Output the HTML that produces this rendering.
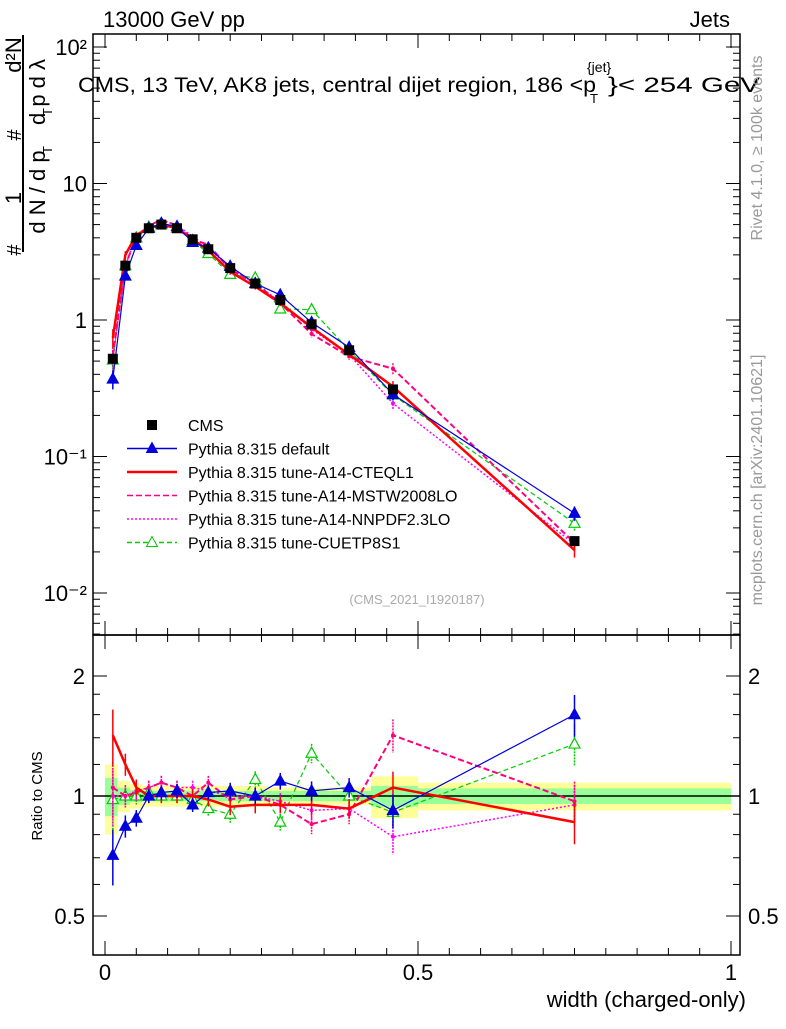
<!DOCTYPE html>
<html><head><meta charset="utf-8"><style>
body{margin:0;background:#fff;}
svg{font-family:"Liberation Sans",sans-serif;}
</style></head><body>
<svg id="c" width="786" height="1024" viewBox="0 0 786 1024" xmlns="http://www.w3.org/2000/svg"></svg>
<script>
const xs=[0.0125,0.0325,0.05,0.07,0.09,0.115,0.14,0.165,0.2,0.24,0.28,0.33,0.39,0.46,0.75];
const binEdges=[0,0.02,0.04,0.06,0.08,0.1,0.13,0.15,0.18,0.22,0.26,0.30,0.36,0.425,0.5,1.0];
const cms=[0.52,2.5,4.0,4.7,5.0,4.7,3.9,3.3,2.4,1.85,1.4,0.93,0.6,0.31,0.024];
const rDefault=[0.71,0.84,0.88,1.0,1.02,1.03,0.95,1.02,1.03,1.0,1.09,1.03,1.05,0.92,1.6];
const rCteq=[1.42,1.2,1.05,1.0,1.0,1.0,1.0,0.98,0.94,0.95,0.95,0.95,0.93,1.05,0.86];
const rMstw=[1.05,1.0,1.02,1.05,1.08,1.05,1.0,1.08,0.98,1.0,0.95,0.85,0.9,1.42,0.97];
const rNnpdf=[1.0,1.0,1.03,1.05,1.08,1.05,1.05,1.03,1.0,1.0,0.97,0.92,0.93,0.79,0.95];
const rCuetp=[0.98,1.0,1.0,1.02,1.0,1.0,0.98,0.93,0.9,1.1,0.86,1.28,1.0,0.91,1.35];
const bandOuter=[0.2,0.09,0.07,0.06,0.06,0.06,0.06,0.06,0.06,0.06,0.05,0.05,0.05,0.12,0.08];
const bandInner=[0.11,0.05,0.035,0.03,0.03,0.03,0.03,0.03,0.03,0.03,0.03,0.03,0.03,0.06,0.045];
const relErr=[0.2,0.08,0.06,0.05,0.05,0.05,0.05,0.05,0.06,0.06,0.06,0.07,0.07,0.12,0.15];
const yTicks=["10\u207B\u00B2","10\u207B\u00B9","1","10","10\u00B2"];
const S="http://www.w3.org/2000/svg";
const svg=document.getElementById('c');
const L=93,R=740,T1=34,B1=635,T2=635,B2=955;
const X=v=>105+v*626;
const Y1=v=>320-Math.log10(v)*136.5;
const Y2=v=>796-Math.log2(v)*120;
function el(t,a,txt){const e=document.createElementNS(S,t);for(const k in a)e.setAttribute(k,a[k]);if(txt!==undefined)e.textContent=txt;svg.appendChild(e);return e;}
for(let i=0;i<xs.length;i++){
 const lo=binEdges[i],hi=binEdges[i+1];
 let b=el('rect',{x:X(lo),y:Y2(1+bandOuter[i]),width:X(hi)-X(lo),height:Y2(1-bandOuter[i])-Y2(1+bandOuter[i]),fill:'#ffff99'});
 
 b=el('rect',{x:X(lo),y:Y2(1+bandInner[i]),width:X(hi)-X(lo),height:Y2(1-bandInner[i])-Y2(1+bandInner[i]),fill:'#99ff99'});
 
}
el('line',{x1:L,x2:R,y1:Y2(1),y2:Y2(1),stroke:'#000','stroke-width':1.5});
for(const [t,b] of [[T1,B1],[T2,B2]]){let f=el('rect',{x:L,y:t,width:R-L,height:b-t,fill:'none',stroke:'#000','stroke-width':1.5});}
for(let k=0;k<=20;k++){const v=k*0.05,x=X(v),len=k%10==0?14:7;
 for(const [t,b] of [[T1,B1],[T2,B2]]){el('line',{x1:x,x2:x,y1:b,y2:b-len,stroke:'#000'});el('line',{x1:x,x2:x,y1:t,y2:t+len,stroke:'#000'});}}
[["0",0],["0.5",0.5],["1",1]].forEach(([s,v])=>{const t=el('text',{x:X(v),y:980,'font-size':22,'text-anchor':'middle'},s);});
for(let d=-3;d<=2;d++)for(let m=1;m<10;m++){const v=m*Math.pow(10,d),y=Y1(v);if(y<T1||y>B1)continue;const len=m==1?14:7;
 el('line',{x1:L,x2:L+len,y1:y,y2:y,stroke:'#000'});el('line',{x1:R,x2:R-len,y1:y,y2:y,stroke:'#000'});}
yTicks.forEach((s,i)=>{const v=Math.pow(10,i-2);const t=el('text',{x:L-6,y:Y1(v)+8,'font-size':22,'text-anchor':'end'},s);});
[0.5,0.6,0.7,0.8,0.9,1,1.2,1.4,1.6,1.8,2].forEach(v=>{const y=Y2(v),len=(v==0.5||v==1||v==2)?14:7;el('line',{x1:L,x2:L+len,y1:y,y2:y,stroke:'#000'});el('line',{x1:R,x2:R-len,y1:y,y2:y,stroke:'#000'});});
[["2",2],["1",1],["0.5",0.5]].forEach(([s,v])=>{for(const [x,a] of [[L-8,'end'],[R+8,'start']]){const t=el('text',{x:x,y:Y2(v)+8,'font-size':22,'text-anchor':a},s);}});
const series=[
 {r:rCuetp,c:'#00cc00',d:'5,3',w:1.2,m:'otri',n:'cuetp8s1'},
 {r:rNnpdf,c:'#ff00ff',d:'2,2',w:1.5,m:'dot',n:'nnpdf'},
 {r:rMstw,c:'#ff0080',d:'6,3',w:2,m:'dot',n:'mstw'},
 {r:rCteq,c:'#ff0000',d:'',w:2.5,m:'none',n:'cteql1'},
 {r:rDefault,c:'#0000dd',d:'',w:1.2,m:'tri',n:'default'}];
function marker(s,x,y){if(s.m=='tri'||s.m=='otri'){const p=el('polygon',{points:`${x},${y-6} ${x-5.5},${y+4} ${x+5.5},${y+4}`,fill:s.m=='tri'?s.c:'#fff',stroke:s.c,'stroke-width':1.2});}
 else if(s.m=='dot'){const p=el('circle',{cx:x,cy:y,r:2,fill:s.c});}}
series.forEach(s=>{
 const p1=xs.map((x,i)=>X(x)+','+Y1(cms[i]*s.r[i])).join(' ');
 const p2=xs.map((x,i)=>X(x)+','+Y2(s.r[i])).join(' ');
 let l=el('polyline',{points:p1,fill:'none',stroke:s.c,'stroke-width':s.w,'stroke-dasharray':s.d});
 l=el('polyline',{points:p2,fill:'none',stroke:s.c,'stroke-width':s.w,'stroke-dasharray':s.d});
 xs.forEach((x,i)=>{const e=relErr[i]*0.8;const v=s.r[i];
  el('line',{x1:X(x),x2:X(x),y1:Y1(cms[i]*v*(1+e)),y2:Y1(cms[i]*v*(1-e)),stroke:s.c,'stroke-width':1.5,'stroke-dasharray':s.d?'2,1':''});
  el('line',{x1:X(x),x2:X(x),y1:Y2(v*(1+e)),y2:Y2(v*(1-e)),stroke:s.c,'stroke-width':1.5,'stroke-dasharray':s.d?'2,1':''});
  marker(s,X(x),Y1(cms[i]*v));marker(s,X(x),Y2(v));});
});
xs.forEach((x,i)=>{const r=el('rect',{x:X(x)-5,y:Y1(cms[i])-5,width:10,height:10,fill:'#000'});});
const leg=[['CMS','sq','#000',''],['Pythia 8.315 default','tri','#0000dd',''],['Pythia 8.315 tune-A14-CTEQL1','none','#ff0000',''],['Pythia 8.315 tune-A14-MSTW2008LO','none','#ff0080','6,3'],['Pythia 8.315 tune-A14-NNPDF2.3LO','none','#ff00ff','2,2'],['Pythia 8.315 tune-CUETP8S1','otri','#00cc00','5,3']];
leg.forEach((e,i)=>{const y=425+i*23.5;
 if(i>0)el('line',{x1:127,x2:177,y1:y,y2:y,stroke:e[2],'stroke-width':i==2?2.5:1.5,'stroke-dasharray':e[3]});
 if(e[1]=='sq')el('rect',{x:147,y:y-5,width:10,height:10,fill:'#000'});
 if(e[1]=='tri'||e[1]=='otri')el('polygon',{points:`152,${y-6} 146.5,${y+4} 157.5,${y+4}`,fill:e[1]=='tri'?e[2]:'#fff',stroke:e[2]});
 const t=el('text',{x:188,y:y+6,'font-size':16},e[0]);});
let t=el('text',{x:103,y:27,'font-size':22},'13000 GeV pp');
t=el('text',{x:730,y:27,'font-size':22,'text-anchor':'end'},'Jets');
t=el('text',{x:78,y:92,'font-size':21,textLength:518,lengthAdjust:'spacingAndGlyphs'},'CMS, 13 TeV, AK8 jets, central dijet region, 186 <p');
el('text',{x:587,y:72,'font-size':14},'{jet}');el('text',{x:590,y:103,'font-size':13},'T');
el('text',{x:608,y:92,'font-size':21,textLength:152,lengthAdjust:'spacingAndGlyphs'},'}< 254 GeV');
t=el('text',{x:417,y:604,'font-size':13,fill:'#aaa','text-anchor':'middle'},'(CMS_2021_I1920187)');
t=el('text',{x:746,y:1007,'font-size':22,'text-anchor':'end'},'width (charged-only)');
t=el('text',{x:0,y:0,'font-size':15,'text-anchor':'middle',transform:'translate(42,796) rotate(-90)'},'Ratio to CMS');
// y title
el('line',{x1:23,x2:23,y1:35,y2:252,stroke:'#000','stroke-width':2});
t=el('text',{x:0,y:0,'font-size':22,'text-anchor':'middle',transform:'translate(21,55) rotate(-90)'},'d²N');
el('text',{x:0,y:0,'font-size':20,'text-anchor':'middle',transform:'translate(21,135) rotate(-90)'},'#');
el('text',{x:0,y:0,'font-size':22,'text-anchor':'middle',transform:'translate(21,198) rotate(-90)'},'1');
el('text',{x:0,y:0,'font-size':20,'text-anchor':'middle',transform:'translate(21,250) rotate(-90)'},'#');
el('text',{x:0,y:0,'font-size':22,'text-anchor':'middle',transform:'translate(45,92) rotate(-90)'},'d p  d λ');
el('text',{x:0,y:0,'font-size':13,'text-anchor':'middle',transform:'translate(52,112) rotate(-90)'},'T');
el('text',{x:0,y:0,'font-size':22,'text-anchor':'middle',transform:'translate(45,192) rotate(-90)'},'d N / d p  ');
el('text',{x:0,y:0,'font-size':13,'text-anchor':'middle',transform:'translate(52,150) rotate(-90)'},'T');
t=el('text',{x:0,y:0,'font-size':16,fill:'#999','text-anchor':'middle',transform:'translate(762,148) rotate(-90)'},'Rivet 4.1.0, ≥ 100k events');
t=el('text',{x:0,y:0,'font-size':16,fill:'#999','text-anchor':'middle',transform:'translate(762,480) rotate(-90)'},'mcplots.cern.ch [arXiv:2401.10621]');
</script>
</body></html>
